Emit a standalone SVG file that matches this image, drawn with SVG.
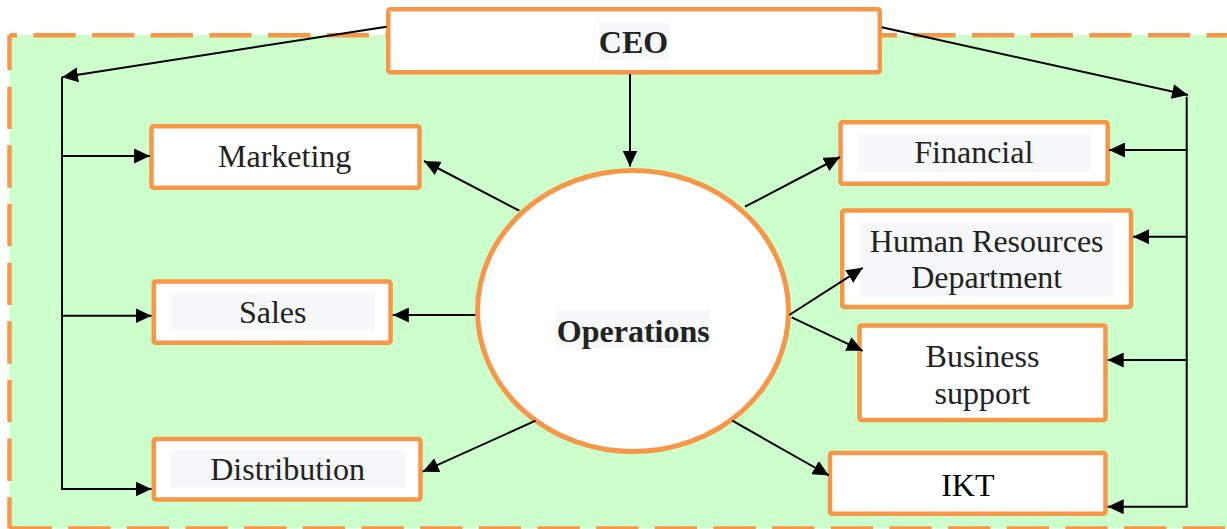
<svg xmlns="http://www.w3.org/2000/svg" width="1227" height="529" viewBox="0 0 1227 529">
  <defs>
    <marker id="arrow" markerUnits="userSpaceOnUse" markerWidth="16" markerHeight="15" refX="16" refY="7.5" orient="auto">
      <path d="M0,0 L16,7.5 L0,15 Z" fill="#000"/>
    </marker>
    <style>
      .frame { fill: none; stroke: #F79646; stroke-width: 4.5; stroke-dasharray: 42.33 16.33; }
      .box { fill: #FFFFFF; stroke: #F79646; stroke-width: 4.5; }
      .hl { fill: #F6F8FA; }
      .lbl { font-family: "Liberation Serif", "Times New Roman", serif; font-size: 32px; fill: #222222; text-anchor: middle; }
      .bold { font-weight: bold; }
      .wire { fill: none; stroke: #000; stroke-width: 2; }
      .arr { fill: none; stroke: #000; stroke-width: 2; marker-end: url(#arrow); }
    </style>
  </defs>

  <!-- background area with dashed frame -->
  <g id="area">
    <rect x="9.5" y="35" width="1230" height="493.5" fill="#CCFFCC"/>
    <line class="frame" x1="9.5" y1="35.3" x2="1240" y2="35.3" stroke-dashoffset="34.8"/>
    <line class="frame" x1="9.5" y1="35" x2="9.5" y2="528.5" stroke-dashoffset="7"/>
    <line class="frame" x1="9.5" y1="528.5" x2="1240" y2="528.5"/>
  </g>

  <g id="ceo">
    <rect class="box" x="388.25" y="9.25" width="491.5" height="63" rx="2"/>
    <rect class="hl" x="599" y="21.7" width="69.7" height="38.3"/>
    <text class="lbl bold" x="633.5" y="53.3">CEO</text>
  </g>

  <g id="operations">
    <ellipse cx="633" cy="311" rx="155.5" ry="140.5" fill="#FFFFFF" stroke="#F79646" stroke-width="5"/>
    <rect class="hl" x="556" y="310" width="154" height="37.7"/>
    <text class="lbl bold" x="633.3" y="341.7">Operations</text>
  </g>

  <g id="marketing">
    <rect class="box" x="151.5" y="126.25" width="268" height="61.5" rx="2"/>
    <text class="lbl" x="284.7" y="166.7">Marketing</text>
  </g>

  <g id="sales">
    <rect class="box" x="153.75" y="281.5" width="236.8" height="61.2" rx="2"/>
    <rect class="hl" x="170.8" y="292.7" width="203.8" height="38"/>
    <text class="lbl" x="272.7" y="323.3">Sales</text>
  </g>

  <g id="distribution">
    <rect class="box" x="153.75" y="439" width="266.7" height="60.5" rx="2"/>
    <rect class="hl" x="171" y="450" width="234" height="37.7"/>
    <text class="lbl" x="287.6" y="480">Distribution</text>
  </g>

  <g id="financial">
    <rect class="box" x="840.5" y="122.25" width="267.2" height="61.5" rx="2"/>
    <rect class="hl" x="858.3" y="134" width="232.4" height="37.7"/>
    <text class="lbl" x="973.8" y="162.7">Financial</text>
  </g>

  <g id="hr">
    <rect class="box" x="842.25" y="210.5" width="288.8" height="96.5" rx="2"/>
    <rect class="hl" x="860" y="221.7" width="254" height="74.3"/>
    <text class="lbl" x="986.7" y="251.7">Human Resources</text>
    <text class="lbl" x="986.7" y="288.3">Department</text>
  </g>

  <g id="business-support">
    <rect class="box" x="859.5" y="325.5" width="246" height="94.5" rx="2"/>
    <text class="lbl" x="982.5" y="366.7">Business</text>
    <text class="lbl" x="982.5" y="403.5">support</text>
  </g>

  <g id="ikt">
    <rect class="box" x="830" y="453" width="275.5" height="60.8" rx="2"/>
    <text class="lbl" x="967.8" y="495.5" fill="#000" style="fill:#000">IKT</text>
  </g>

  <!-- connectors, drawn over the nodes -->
  <g id="connectors">
    <line class="arr" x1="630" y1="74" x2="630" y2="166.5"/>
    <!-- left trunk -->
    <line class="arr" x1="386.5" y1="26.7" x2="62" y2="77.3"/>
    <line class="wire" x1="62" y1="77" x2="62" y2="489"/>
    <line class="arr" x1="61" y1="156" x2="150" y2="156"/>
    <line class="arr" x1="61" y1="315.7" x2="151.5" y2="315.7"/>
    <line class="arr" x1="61" y1="489" x2="151.5" y2="489"/>
    <!-- right trunk -->
    <line class="arr" x1="881.7" y1="27.3" x2="1188" y2="95"/>
    <line class="wire" x1="1186.7" y1="96.7" x2="1186.7" y2="506.7"/>
    <line class="arr" x1="1187.7" y1="150" x2="1109" y2="150"/>
    <line class="arr" x1="1187.7" y1="236.7" x2="1133" y2="236.7"/>
    <line class="arr" x1="1187.7" y1="360" x2="1107.7" y2="360"/>
    <line class="arr" x1="1187.7" y1="506.7" x2="1107.7" y2="506.7"/>
    <!-- from Operations -->
    <line class="arr" x1="519.3" y1="210.7" x2="424" y2="161"/>
    <line class="arr" x1="475.3" y1="315" x2="392.8" y2="315"/>
    <line class="arr" x1="535.6" y1="420.7" x2="422.7" y2="471.7"/>
    <line class="arr" x1="745" y1="206.7" x2="840" y2="157"/>
    <line class="arr" x1="789.3" y1="315" x2="862.7" y2="267.8"/>
    <line class="arr" x1="791.7" y1="317.3" x2="862.7" y2="350.8"/>
    <line class="arr" x1="732.3" y1="420.7" x2="829" y2="475.5"/>
  </g>
</svg>
